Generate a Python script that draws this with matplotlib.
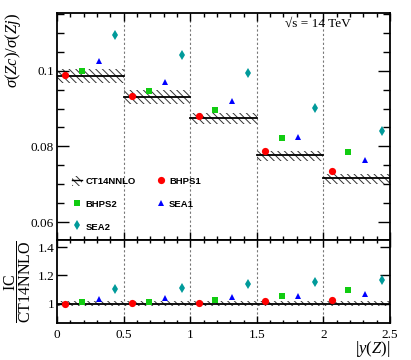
import numpy as np
import matplotlib as mp
mp.use('Agg')
import matplotlib.pyplot as pp
from matplotlib.patches import Patch
from matplotlib.lines import Line2D
from matplotlib.ticker import MultipleLocator, FuncFormatter

config = {'font.family': ['Liberation Serif', 'DejaVu Serif'],
          'mathtext.fontset': 'custom',
          'mathtext.rm': 'Liberation Serif',
          'mathtext.it': 'Liberation Serif:italic',
          'mathtext.bf': 'Liberation Serif:bold',
          'hatch.linewidth': 0.7,
          'xtick.direction': 'in',
          'ytick.direction': 'in',
          'xtick.top': True,
          'ytick.right': True,
          }
mp.rcParams.update(config)

# bins in |y(Z)|
bin_edges = [0.0, 0.5, 1.0, 1.5, 2.0, 2.5]
offsets = {'BHPS1': 0.0625, 'BHPS2': 0.1875, 'SEA1': 0.3125, 'SEA2': 0.4375}

# sigma(Zc)/sigma(Zj)
ct14 = [0.0986, 0.0931, 0.0875, 0.0778, 0.0717]
ct14_lo = [0.0967, 0.0911, 0.0859, 0.0762, 0.0701]
ct14_hi = [0.1004, 0.0949, 0.0889, 0.0789, 0.0727]
bhps1 = [0.0989, 0.0933, 0.0880, 0.0789, 0.0736]
bhps2 = [0.0998, 0.0946, 0.0896, 0.0821, 0.0785]
sea1 = [0.1026, 0.0971, 0.0920, 0.0825, 0.0764]
sea2 = [0.1093, 0.1041, 0.0995, 0.0902, 0.0840]

# IC / CT14NNLO
ratio_err = 0.018
r_bhps1 = [1.000, 1.002, 1.005, 1.016, 1.026]
r_bhps2 = [1.014, 1.014, 1.024, 1.054, 1.098]
r_sea1 = [1.036, 1.043, 1.050, 1.057, 1.067]
r_sea2 = [1.105, 1.114, 1.136, 1.157, 1.171]

hatch = '\\\\\\\\\\'

styles = {'BHPS1': dict(marker='o', color='#ff0000', ms=5.2, mew=0),
          'BHPS2': dict(marker='s', color='#11cc11', ms=4.8, mew=0),
          'SEA1': dict(marker='^', color='#0000ff', ms=5.0, mew=0),
          'SEA2': dict(marker='d', color='#009a9a', ms=5.0, mew=0)}

fig = pp.figure(figsize=(4.11, 3.6), dpi=100)
ax1 = fig.add_axes([0.1387, 0.3333, 0.8103, 0.6314])
ax2 = fig.add_axes([0.1387, 0.1019, 0.8103, 0.2314], sharex=ax1)

lo = np.array(bin_edges[:-1])
hi = np.array(bin_edges[1:])

for i in range(len(ct14)):
    ax1.fill_between([lo[i], hi[i]], ct14_lo[i], ct14_hi[i], facecolor='none',
                     edgecolor='#333333', hatch=hatch, lw=0)
    ax1.plot([lo[i], hi[i]], [ct14[i], ct14[i]], c='k', lw=1.3)
    ax2.fill_between([lo[i], hi[i]], 1 - ratio_err, 1 + ratio_err, facecolor='none',
                     edgecolor='#333333', hatch=hatch, lw=0)
ax2.axhline(1.0, c='k', lw=1.3)

for name, vals, rvals in [('BHPS1', bhps1, r_bhps1), ('BHPS2', bhps2, r_bhps2),
                          ('SEA1', sea1, r_sea1), ('SEA2', sea2, r_sea2)]:
    ax1.plot(lo + offsets[name], vals, lw=0, zorder=5, **styles[name])
    ax2.plot(lo + offsets[name], rvals, lw=0, zorder=5, **styles[name])

for ax in (ax1, ax2):
    for xb in bin_edges[1:-1]:
        ax.axvline(xb, c='#777777', lw=0.8, ls=(0, (2, 2)), zorder=1)
    for s in ax.spines.values():
        s.set_linewidth(1.3)
    ax.xaxis.set_major_locator(MultipleLocator(0.5))
    ax.xaxis.set_minor_locator(MultipleLocator(0.1))
    ax.tick_params(which='both', labelsize=9.5, width=1.0)

ax1.set_xlim(0, 2.5)
ax1.set_ylim(0.0553, 0.1153)
ax1.yaxis.set_major_locator(MultipleLocator(0.02))
ax1.yaxis.set_minor_locator(MultipleLocator(0.005))
ax1.yaxis.set_major_formatter(FuncFormatter(lambda v, p: '{:g}'.format(round(v, 3))))
ax1.tick_params(axis='x', which='major', length=6, labelbottom=False)
ax1.tick_params(axis='x', which='minor', length=3)
ax1.tick_params(axis='y', which='major', length=8.5, pad=2)
ax1.tick_params(axis='y', which='minor', length=5)

ax2.set_ylim(0.86, 1.452)
ax2.yaxis.set_major_locator(MultipleLocator(0.2))
ax2.yaxis.set_minor_locator(MultipleLocator(0.2))
ax2.yaxis.set_major_formatter(FuncFormatter(lambda v, p: '{:g}'.format(round(v, 2))))
ax2.tick_params(axis='x', which='major', length=5, pad=4)
ax2.tick_params(axis='x', which='minor', length=2.5)
ax2.tick_params(axis='y', which='major', length=7, pad=2)
ax2.tick_params(axis='y', which='minor', length=0)
ax2.xaxis.set_major_formatter(FuncFormatter(lambda v, p: '{:g}'.format(v)))

ax1.set_ylabel(r'$\sigma(Zc)/\sigma(Zj)$', fontsize=12, loc='top', labelpad=6)
ax2.set_ylabel(r'$\dfrac{\mathrm{IC}}{\mathrm{CT14NNLO}}$', fontsize=11.5, labelpad=3)
ax2.set_xlabel(r'$|y(Z)|$', fontsize=12, loc='right', labelpad=-1)

ax1.text(0.685, 0.95, '√s = 14 TeV', transform=ax1.transAxes, fontsize=9.5,
         ha='left', va='center')

handles = [(Patch(facecolor='none', edgecolor='#333333', hatch=hatch, lw=0),
            Line2D([], [], c='k', lw=1.0)),
           Line2D([], [], lw=0, **styles['BHPS2']),
           Line2D([], [], lw=0, **styles['SEA2']),
           Line2D([], [], lw=0, **styles['BHPS1']),
           Line2D([], [], lw=0, **styles['SEA1'])]
labels = ['CT14NNLO', 'BHPS2', 'SEA2', 'BHPS1', 'SEA1']
ax1.legend(handles, labels, ncol=2, loc='lower left', bbox_to_anchor=(0.021, 0.0),
           frameon=False, prop={'family': 'Liberation Sans', 'weight': 'bold', 'size': 6.8},
           handlelength=1.0, handleheight=1.2, handletextpad=0.4, columnspacing=2.1,
           labelspacing=1.35)

fig.savefig('out.png', dpi=100)
